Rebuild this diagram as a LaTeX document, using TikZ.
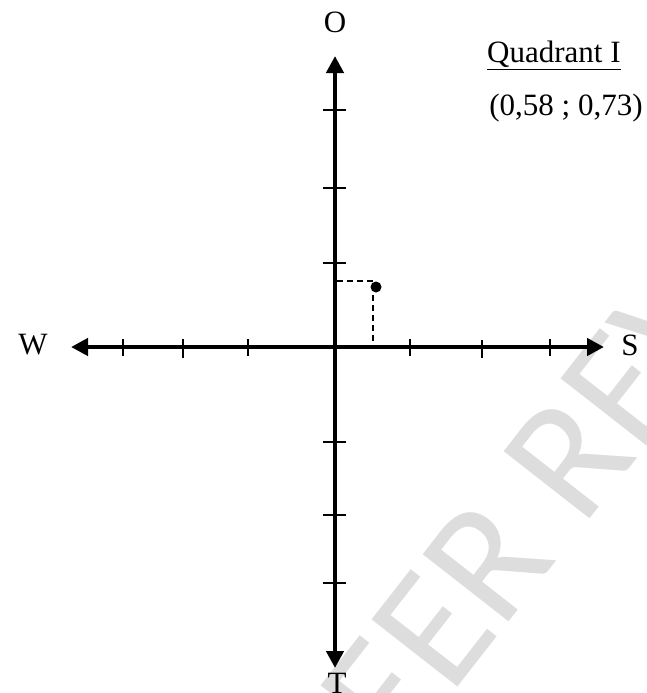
\documentclass[tikz,border=0pt]{standalone}
\usepackage{fontspec}
\setmainfont{Liberation Serif}
\newfontfamily\wmfont{Carlito}
\usetikzlibrary{arrows.meta}
\definecolor{wmgray}{RGB}{221,221,221}
\begin{document}
\begin{tikzpicture}[x=1pt,y=-1pt,
  axisline/.style={line width=4.6pt,
    {Triangle[length=17pt,width=17pt]}-{Triangle[length=17pt,width=17pt]}},
  tickline/.style={line width=1.6pt},
  guide/.style={line width=1.6pt, dash pattern=on 6pt off 4pt},
  lbl/.style={font=\fontsize{31}{36}\selectfont, inner sep=0pt},
  wm/.style={font=\wmfont\fontsize{170}{170}\selectfont, text=wmgray, inner sep=0pt}]
\useasboundingbox (0,0) rectangle (646,693);
% watermark
\node[wm, rotate=52] (wmark) at (590,430) {PEER REVIEW};
% axes
\coordinate (Wend) at (71,347);
\coordinate (Eend) at (604,347);
\coordinate (Nend) at (335,56);
\coordinate (Send) at (335,668);
\draw[axisline] (Wend) -- (Eend);
\draw[axisline] (Send) -- (Nend);
% ticks on horizontal axis
\foreach \x/\a/\b in {123/339/356,183/339/358,248/339/356,410/339/356,482/340/358,550/339/356}
  \draw[tickline] (\x,\a) -- (\x,\b);
% ticks on vertical axis
\foreach \y in {110,188,263,442,515,583}
  \draw[tickline] (323,\y) -- (346,\y);
% point and guides
\node[circle, fill=black, inner sep=0pt, minimum size=11pt] (pt) at (376,287) {};
\coordinate (gy) at (337,281);
\coordinate (gx) at (373,345);
\draw[guide] (gy) -| (gx);
% labels
\node[lbl] (lO) at (335,22) {O};
\node[lbl] (lW) at (33,345) {W};
\node[lbl] (lS) at (630,345) {S};
\node[lbl] (lT) at (337,683) {T};
\node[lbl, anchor=base west] (quad) at (487,63) {\underline{Quadrant I}};
\node[lbl, anchor=base] (coord) at (566,115) {(0,58 ; 0,73)};
\end{tikzpicture}
\end{document}
